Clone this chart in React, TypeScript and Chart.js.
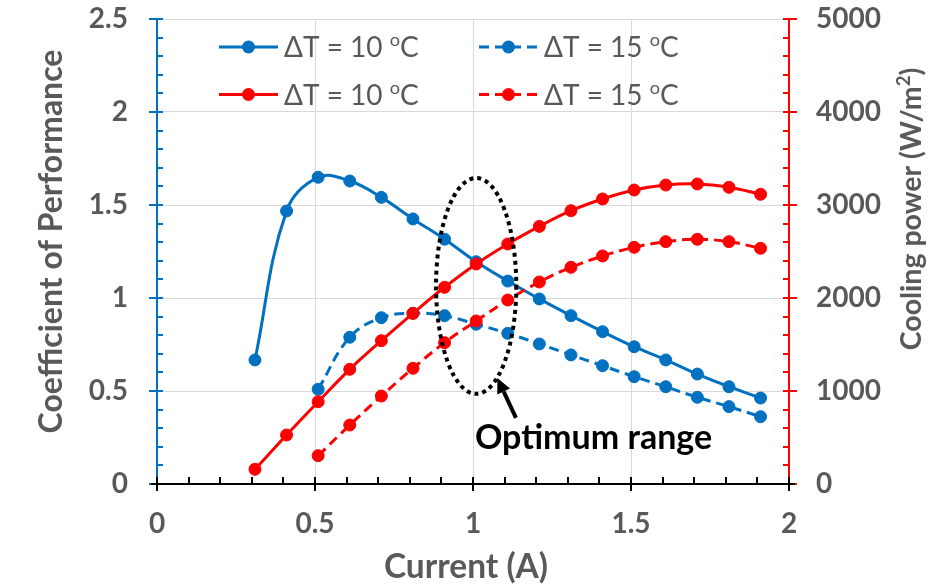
import React, { useEffect, useRef } from "react";
import { Chart, registerables } from "chart.js";

Chart.register(...registerables);

// ---------- data ----------
const currentA = [0.31, 0.41, 0.51, 0.61, 0.71, 0.81, 0.91, 1.01, 1.11, 1.21, 1.31, 1.41, 1.51, 1.61, 1.71, 1.81, 1.91];
const copDT10 = [0.667, 1.468, 1.649, 1.629, 1.541, 1.425, 1.316, 1.195, 1.091, 0.995, 0.905, 0.819, 0.738, 0.667, 0.591, 0.523, 0.462];
const copDT15 = [null, null, 0.509, 0.789, 0.894, 0.918, 0.905, 0.859, 0.81, 0.753, 0.694, 0.636, 0.577, 0.523, 0.466, 0.416, 0.362];
const powerDT10 = [158, 527, 885, 1233, 1541, 1835, 2115, 2366, 2581, 2770, 2939, 3065, 3161, 3215, 3226, 3190, 3115];
const powerDT15 = [null, null, 305, 634, 946, 1244, 1520, 1753, 1978, 2172, 2330, 2452, 2545, 2606, 2631, 2606, 2534];

const seriesLabels = ["ΔT = 10 ºC", "ΔT = 15 ºC", "ΔT = 10 ºC", "ΔT = 15 ºC"];
const xTitle = "Current (A)";
const yTitle = "Coefficient of Performance";
const y2Title = "Cooling power (W/m²)";
const annotationText = "Optimum range";

const xRange = [0, 2];
const xMajor = 0.5;
const xMinor = 0.1;
const copRange = [0, 2.5];
const copMajor = 0.5;
const copMinor = 0.1;
const powerRange = [0, 5000];
const powerMajor = 1000;
const powerMinor = 200;

// annotation (data coordinates)
const ellipseCenter = [1.01, 1.065];
const ellipseRadii = [0.127, 0.58];
const arrowTip = [1.077, 0.57];
const arrowTail = [1.136, 0.355];
const annotationAnchor = [1.006, 0.188];

// ---------- style ----------
const BLUE = "#0070C0";
const RED = "#FF0000";
const GRAY = "#595959";
const GRID = "#D9D9D9";
const FONT = "Lato";
const TICK_SIZE = 28;

function toPoints(ys: (number | null)[]) {
  const pts: { x: number; y: number }[] = [];
  ys.forEach((v, i) => {
    if (v !== null) pts.push({ x: currentA[i], y: v });
  });
  return pts;
}

function drawRichText(ctx: CanvasRenderingContext2D, text: string, x: number, y: number, size: number, weight: string, align: string, color: string) {
  const segs: { t: string; sup: boolean; w?: number }[] = [];
  let buf = "";
  for (const ch of text) {
    if (ch === "º" || ch === "²") {
      if (buf) segs.push({ t: buf, sup: false });
      buf = "";
      segs.push({ t: ch === "º" ? "o" : "2", sup: true });
    } else buf += ch;
  }
  if (buf) segs.push({ t: buf, sup: false });
  const supSize = size * 0.65;
  const fontOf = (s: { sup: boolean }) => `${weight} ${s.sup ? supSize : size}px ${FONT}`;
  let total = 0;
  for (const s of segs) {
    ctx.font = fontOf(s);
    s.w = ctx.measureText(s.t).width;
    total += s.w;
  }
  let cx = align === "center" ? x - total / 2 : x;
  ctx.fillStyle = color;
  ctx.textAlign = "left";
  ctx.textBaseline = "alphabetic";
  for (const s of segs) {
    ctx.font = fontOf(s);
    ctx.fillText(s.t, cx, s.sup ? y - size * 0.38 : y);
    cx += s.w || 0;
  }
}

const decorPlugin = {
  id: "decor",
  afterDraw(chart: any) {
    const { ctx, chartArea, scales } = chart;
    const xs = scales.x;
    const ys = scales.y;
    const y2 = scales.y2;
    const { left, right, top, bottom } = chartArea;
    ctx.save();

    // axis tick marks (major cross, minor inside)
    ctx.lineWidth = 2;
    ctx.setLineDash([]);
    ctx.strokeStyle = "#000";
    const nx = Math.round((xRange[1] - xRange[0]) / xMinor);
    for (let i = 0; i <= nx; i++) {
      const v = xRange[0] + i * xMinor;
      const px = Math.round(xs.getPixelForValue(v));
      const major = Math.abs(v / xMajor - Math.round(v / xMajor)) < 1e-6;
      ctx.beginPath();
      ctx.moveTo(px, bottom - 7);
      ctx.lineTo(px, bottom + (major ? 7 : 0));
      ctx.stroke();
    }
    ctx.strokeStyle = BLUE;
    const ny = Math.round((copRange[1] - copRange[0]) / copMinor);
    for (let i = 0; i <= ny; i++) {
      const v = copRange[0] + i * copMinor;
      const py = Math.round(ys.getPixelForValue(v));
      const major = Math.abs(v / copMajor - Math.round(v / copMajor)) < 1e-6;
      ctx.beginPath();
      ctx.moveTo(left - (major ? 8 : 0), py);
      ctx.lineTo(left + 6, py);
      ctx.stroke();
    }
    ctx.strokeStyle = RED;
    const ny2 = Math.round((powerRange[1] - powerRange[0]) / powerMinor);
    for (let i = 0; i <= ny2; i++) {
      const v = powerRange[0] + i * powerMinor;
      const py = Math.round(y2.getPixelForValue(v));
      const major = i % Math.round(powerMajor / powerMinor) === 0;
      ctx.beginPath();
      ctx.moveTo(right - 6, py);
      ctx.lineTo(right + (major ? 8 : 0), py);
      ctx.stroke();
    }
    ctx.strokeStyle = "#000";
    ctx.beginPath();
    ctx.moveTo(left - 6, bottom);
    ctx.lineTo(left + 6, bottom);
    ctx.moveTo(right - 6, bottom);
    ctx.lineTo(right + 6, bottom);
    ctx.stroke();

    // axis titles
    ctx.save();
    ctx.translate(62, (top + bottom) / 2 - 10);
    ctx.rotate(-Math.PI / 2);
    drawRichText(ctx, yTitle, 0, 0, 32, "bold", "center", GRAY);
    ctx.restore();

    ctx.save();
    ctx.translate(921, 209);
    ctx.rotate(-Math.PI / 2);
    drawRichText(ctx, y2Title, 0, 0, 28.5, "bold", "center", GRAY);
    ctx.restore();

    drawRichText(ctx, xTitle, (left + right) / 2 - 7, 578, 33.5, "bold", "center", GRAY);

    // legend
    const ds = chart.data.datasets;
    const colLine = [left + 62, left + 322];
    const rowY = [top + 28, top + 75.5];
    const lineLen = 59;
    for (let i = 0; i < ds.length; i++) {
      const col = i % 2;
      const row = Math.floor(i / 2);
      const x0 = colLine[col];
      const yy = rowY[row];
      ctx.strokeStyle = ds[i].borderColor;
      ctx.lineWidth = 3;
      ctx.setLineDash(ds[i].borderDash || []);
      ctx.beginPath();
      ctx.moveTo(x0, yy);
      ctx.lineTo(x0 + lineLen, yy);
      ctx.stroke();
      ctx.setLineDash([]);
      ctx.fillStyle = ds[i].backgroundColor;
      ctx.beginPath();
      ctx.arc(x0 + lineLen / 2, yy, 6.5, 0, Math.PI * 2);
      ctx.fill();
      drawRichText(ctx, seriesLabels[i], x0 + lineLen + 6, yy + 10, 28, "normal", "left", GRAY);
    }

    // ellipse
    const ecx = xs.getPixelForValue(ellipseCenter[0]);
    const ecy = ys.getPixelForValue(ellipseCenter[1]);
    const erx = xs.getPixelForValue(ellipseCenter[0] + ellipseRadii[0]) - ecx;
    const ery = ecy - ys.getPixelForValue(ellipseCenter[1] + ellipseRadii[1]);
    ctx.strokeStyle = "#000";
    ctx.lineWidth = 4;
    ctx.setLineDash([4, 4]);
    ctx.beginPath();
    ctx.ellipse(ecx, ecy, erx, ery, 0, 0, Math.PI * 2);
    ctx.stroke();
    ctx.setLineDash([]);

    // arrow
    const tx = xs.getPixelForValue(arrowTip[0]);
    const ty = ys.getPixelForValue(arrowTip[1]);
    const sx = xs.getPixelForValue(arrowTail[0]);
    const sy = ys.getPixelForValue(arrowTail[1]);
    const ang = Math.atan2(ty - sy, tx - sx);
    const headLen = 15;
    const headW = 7;
    const bx = tx - headLen * Math.cos(ang);
    const by = ty - headLen * Math.sin(ang);
    ctx.lineWidth = 4;
    ctx.beginPath();
    ctx.moveTo(sx, sy);
    ctx.lineTo(bx, by);
    ctx.stroke();
    ctx.fillStyle = "#000";
    ctx.beginPath();
    ctx.moveTo(tx, ty);
    ctx.lineTo(bx + headW * Math.sin(ang), by - headW * Math.cos(ang));
    ctx.lineTo(bx - headW * Math.sin(ang), by + headW * Math.cos(ang));
    ctx.closePath();
    ctx.fill();

    drawRichText(ctx, annotationText, xs.getPixelForValue(annotationAnchor[0]), ys.getPixelForValue(annotationAnchor[1]), 34, "bold", "left", "#000");

    ctx.restore();
  },
};

function zeroPadding(s: any) {
  s.paddingTop = 0;
  s.paddingBottom = 0;
  s.paddingLeft = 0;
  s.paddingRight = 0;
}

export default function App() {
  const canvasRef = useRef<HTMLCanvasElement | null>(null);

  useEffect(() => {
    if (!canvasRef.current) return;
    const common = {
      borderWidth: 3,
      pointRadius: 6,
      pointHoverRadius: 6,
      pointBorderWidth: 1,
      tension: 0.4,
      fill: false,
    };
    const tickFont = { family: FONT, size: TICK_SIZE, weight: "bold" };
    const chart = new Chart(canvasRef.current, {
      type: "line",
      data: {
        datasets: [
          { ...common, label: seriesLabels[0], data: toPoints(copDT10), yAxisID: "y", borderColor: BLUE, backgroundColor: BLUE, pointBorderColor: BLUE, borderDash: [], order: 2 },
          { ...common, label: seriesLabels[1], data: toPoints(copDT15), yAxisID: "y", borderColor: BLUE, backgroundColor: BLUE, pointBorderColor: BLUE, borderDash: [10, 6], order: 3 },
          { ...common, label: seriesLabels[2], data: toPoints(powerDT10), yAxisID: "y2", borderColor: RED, backgroundColor: RED, pointBorderColor: RED, borderDash: [], order: 0 },
          { ...common, label: seriesLabels[3], data: toPoints(powerDT15), yAxisID: "y2", borderColor: RED, backgroundColor: RED, pointBorderColor: RED, borderDash: [10, 6], order: 1 },
        ],
      },
      options: {
        responsive: false,
        animation: false,
        events: [],
        layout: { padding: { top: 19, left: 0, right: 0, bottom: 0 } },
        plugins: { legend: { display: false }, tooltip: { enabled: false }, title: { display: false } },
        scales: {
          x: {
            type: "linear",
            position: "bottom",
            min: xRange[0],
            max: xRange[1],
            ticks: { stepSize: xMajor, color: GRAY, font: tickFont, padding: 23, callback: (v: any) => String(v) },
            grid: {
              color: (c: any) => (c.tick && (c.tick.value === xRange[0] || c.tick.value === xRange[1]) ? "rgba(0,0,0,0)" : GRID),
              lineWidth: 1,
              drawTicks: false,
            },
            border: { color: "#000", width: 2 },
            afterFit: (s: any) => {
              s.height = 102;
              zeroPadding(s);
            },
          },
          y: {
            type: "linear",
            position: "left",
            min: copRange[0],
            max: copRange[1],
            ticks: { stepSize: copMajor, color: GRAY, font: tickFont, padding: 29, callback: (v: any) => String(v) },
            grid: {
              color: (c: any) => (c.tick && c.tick.value === copRange[0] ? "rgba(0,0,0,0)" : GRID),
              lineWidth: 1,
              drawTicks: false,
            },
            border: { color: BLUE, width: 2 },
            afterFit: (s: any) => {
              s.width = 157;
              zeroPadding(s);
            },
          },
          y2: {
            type: "linear",
            position: "right",
            min: powerRange[0],
            max: powerRange[1],
            ticks: { stepSize: powerMajor, color: GRAY, font: tickFont, padding: 27, callback: (v: any) => String(v) },
            grid: { drawOnChartArea: false, drawTicks: false },
            border: { color: RED, width: 2 },
            afterFit: (s: any) => {
              s.width = 151;
              zeroPadding(s);
            },
          },
        },
      },
      plugins: [decorPlugin],
    } as any);
    return () => chart.destroy();
  }, []);

  return (
    <div style={{ position: "absolute", left: 0, top: 0, width: 940, height: 586, background: "#fff" }}>
      <canvas ref={canvasRef} width={940} height={586} style={{ display: "block", width: 940, height: 586 }} />
    </div>
  );
}
